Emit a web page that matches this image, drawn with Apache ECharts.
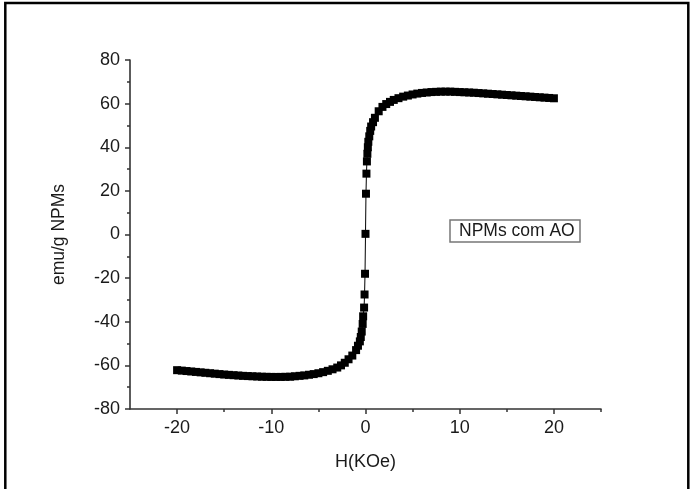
<!DOCTYPE html>
<html>
<head>
<meta charset="utf-8">
<script src="https://cdn.jsdelivr.net/npm/echarts@6/dist/echarts.min.js"></script>
<style>
html,body{margin:0;padding:0;background:#fff;}
#c{width:692px;height:489px;}
</style>
</head>
<body>
<div id="c"></div>
<script>
// Field H (kOe)
var fieldH = [
  -20, -19.5, -19, -18.5, -18, -17.5, -17, -16.5, -16, -15.5, -15, -14.5, -14, -13.5, -13,
  -12.5, -12, -11.5, -11, -10.5, -10, -9.5, -9, -8.5, -8, -7.5, -7, -6.5, -6, -5.5, -5,
  -4.5, -4, -3.5, -3, -2.6, -2.2, -1.8, -1.4, -1.0, -0.8, -0.6, -0.5, -0.4, -0.3, -0.25,
  -0.15, -0.1, -0.05, 0,
  0.05, 0.1, 0.15, 0.2, 0.25, 0.3, 0.4, 0.5, 0.6, 0.8, 1.0, 1.4, 1.8, 2.2, 2.6, 3.0,
  3.5, 4, 4.5, 5, 5.5, 6, 6.5, 7, 7.5, 8, 8.5, 9, 9.5, 10, 10.5, 11, 11.5, 12, 12.5,
  13, 13.5, 14, 14.5, 15, 15.5, 16, 16.5, 17, 17.5, 18, 18.5, 19, 19.5, 20
];
// Magnetization (emu/g NPMs)
var magM = [
  -62.2, -62.4, -62.6, -62.8, -63.0, -63.2, -63.4, -63.6, -63.8, -64.0, -64.2, -64.35, -64.5, -64.65, -64.8,
  -64.9, -65.0, -65.1, -65.2, -65.25, -65.3, -65.3, -65.3, -65.25, -65.2, -65.0, -64.8, -64.6, -64.3, -64.0, -63.6,
  -63.1, -62.5, -61.8, -61.0, -60.0, -58.8, -57.2, -55.5, -53.0, -51.0, -49.0, -47.0, -44.5, -41.0, -37.5,
  -33.5, -27.5, -18.0, 0.3,
  18.7, 27.9, 33.5, 37.0, 40.0, 42.5, 45.0, 47.5, 49.5, 51.5, 53.5, 56.5, 58.5, 59.8, 60.8, 61.7,
  62.5, 63.2, 63.7, 64.2, 64.6, 64.9, 65.1, 65.3, 65.4, 65.5, 65.5, 65.5, 65.4, 65.3, 65.2, 65.1, 65.0, 64.85, 64.7,
  64.55, 64.4, 64.25, 64.1, 63.95, 63.8, 63.65, 63.5, 63.35, 63.2, 63.05, 62.9, 62.75, 62.6, 62.45
];
var xMajorTicks = [-20, -10, 0, 10, 20];
var xMinorTicks = [-15, -5, 5, 15, 25];
var seriesName = 'NPMs com AO';

var pts = fieldH.map(function (h, i) { return [h, magM[i]]; });
var FONT = 'Liberation Sans, Arial, sans-serif';
var FS = 18;
var chart = echarts.init(document.getElementById('c'), null, {renderer: 'canvas'});
chart.setOption({
  animation: false,
  backgroundColor: '#fff',
  grid: {left: 130, right: 91, top: 60, bottom: 80, containLabel: false},
  xAxis: [{
    type: 'value', min: -25, max: 25,
    name: 'H(KOe)', nameLocation: 'middle', nameGap: 44,
    nameTextStyle: {fontFamily: FONT, fontSize: FS, color: '#1a1a1a'},
    axisLine: {show: true, onZero: false, lineStyle: {color: '#333', width: 1.6}},
    axisTick: {show: true, inside: false, length: 5, customValues: xMajorTicks, lineStyle: {color: '#333', width: 1.5}},
    axisLabel: {show: true, customValues: xMajorTicks, margin: 10, fontFamily: FONT, fontSize: FS, color: '#1a1a1a'},
    splitLine: {show: false}
  }, {
    type: 'value', min: -25, max: 25, position: 'bottom',
    axisLine: {show: false, onZero: false},
    axisTick: {show: true, inside: false, length: 3, customValues: xMinorTicks, lineStyle: {color: '#333', width: 1.5}},
    axisLabel: {show: false},
    splitLine: {show: false}
  }],
  yAxis: {
    type: 'value', min: -80, max: 80, interval: 20,
    name: 'emu/g NPMs', nameLocation: 'middle', nameGap: 62, nameRotate: 90,
    nameTextStyle: {fontFamily: FONT, fontSize: 17.5, color: '#1a1a1a'},
    axisLine: {show: true, onZero: false, lineStyle: {color: '#333', width: 1.6}},
    axisTick: {show: true, inside: false, length: 5, lineStyle: {color: '#333', width: 1.5}},
    minorTick: {show: true, splitNumber: 2, length: 3, lineStyle: {color: '#333', width: 1.5}},
    axisLabel: {margin: 10, fontFamily: FONT, fontSize: FS, color: '#1a1a1a'},
    splitLine: {show: false}
  },
  series: [{
    name: seriesName,
    type: 'line',
    data: pts,
    symbol: 'rect',
    symbolSize: 8,
    showAllSymbol: true,
    itemStyle: {color: '#000'},
    lineStyle: {color: '#000', width: 1}
  }],
  graphic: [
    {type: 'rect', shape: {x: 5.3, y: 3, width: 683, height: 500},
     style: {fill: 'none', stroke: '#000', lineWidth: 2.5}, silent: true},
    {type: 'rect', shape: {x: 450, y: 220, width: 130, height: 22},
     style: {fill: '#fff', stroke: '#777', lineWidth: 1.5}, silent: true, z: 10},
    {type: 'text', x: 459, y: 231, z: 11,
     style: {text: seriesName, font: '17.5px ' + FONT, fill: '#1a1a1a', verticalAlign: 'middle', align: 'left'}}
  ]
});
</script>
</body>
</html>
